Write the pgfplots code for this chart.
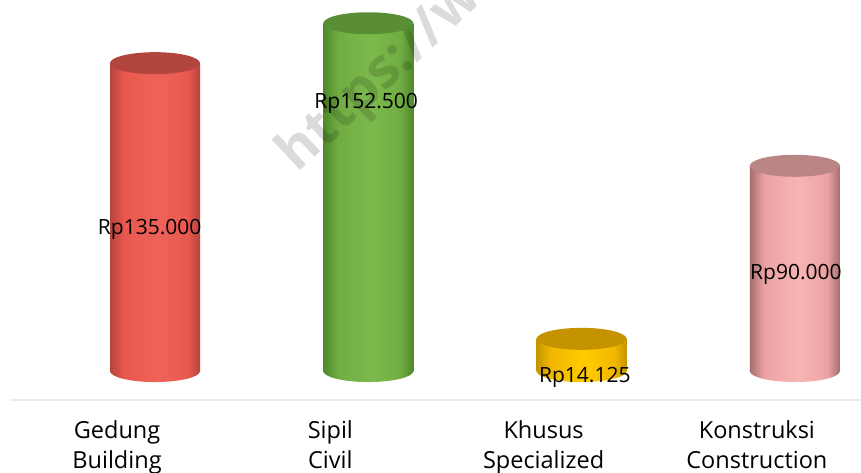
\documentclass[border=0pt]{standalone}
\usepackage{pgfplots}
\pgfplotsset{compat=1.18}
\usepackage{fontspec}
\setmainfont{Open Sans}
\definecolor{rD}{HTML}{B8433D}\definecolor{rM}{HTML}{E8584F}\definecolor{rL}{HTML}{F06259}\definecolor{rT}{HTML}{B3453F}
\definecolor{gD}{HTML}{4E882A}\definecolor{gM}{HTML}{70AC43}\definecolor{gL}{HTML}{7BBA4C}\definecolor{gT}{HTML}{598E37}
\definecolor{yD}{HTML}{C59500}\definecolor{yM}{HTML}{F2B700}\definecolor{yL}{HTML}{FFCC00}\definecolor{yT}{HTML}{C69300}
\definecolor{pD}{HTML}{A56E6E}\definecolor{pM}{HTML}{EDA2A2}\definecolor{pL}{HTML}{F7B4B4}\definecolor{pT}{HTML}{BA8585}
\pgfdeclarehorizontalshading{redbar}{100bp}{color(0bp)=(rD); color(25bp)=(rD); color(33bp)=(rM); color(52bp)=(rL); color(68bp)=(rM); color(75bp)=(rD); color(100bp)=(rD)}
\pgfdeclarehorizontalshading{greenbar}{100bp}{color(0bp)=(gD); color(25bp)=(gD); color(33bp)=(gM); color(52bp)=(gL); color(68bp)=(gM); color(75bp)=(gD); color(100bp)=(gD)}
\pgfdeclarehorizontalshading{yellowbar}{100bp}{color(0bp)=(yD); color(25bp)=(yD); color(33bp)=(yM); color(52bp)=(yL); color(68bp)=(yM); color(75bp)=(yD); color(100bp)=(yD)}
\pgfdeclarehorizontalshading{pinkbar}{100bp}{color(0bp)=(pD); color(25bp)=(pD); color(33bp)=(pM); color(52bp)=(pL); color(68bp)=(pM); color(75bp)=(pD); color(100bp)=(pD)}
\pgfdeclareplotmark{botR}{\pgfpathellipse{\pgfpointorigin}{\pgfqpoint{45pt}{0pt}}{\pgfqpoint{0pt}{11pt}}\pgfshadepath{redbar}{0}\pgfusepath{}}
\pgfdeclareplotmark{botG}{\pgfpathellipse{\pgfpointorigin}{\pgfqpoint{45pt}{0pt}}{\pgfqpoint{0pt}{11pt}}\pgfshadepath{greenbar}{0}\pgfusepath{}}
\pgfdeclareplotmark{botY}{\pgfpathellipse{\pgfpointorigin}{\pgfqpoint{45pt}{0pt}}{\pgfqpoint{0pt}{11pt}}\pgfshadepath{yellowbar}{0}\pgfusepath{}}
\pgfdeclareplotmark{botP}{\pgfpathellipse{\pgfpointorigin}{\pgfqpoint{45pt}{0pt}}{\pgfqpoint{0pt}{11pt}}\pgfshadepath{pinkbar}{0}\pgfusepath{}}
\pgfdeclareplotmark{cap}{\pgfpathellipse{\pgfpointorigin}{\pgfqpoint{45pt}{0pt}}{\pgfqpoint{0pt}{11pt}}\pgfusepathqfill}
\begin{document}
\begin{tikzpicture}
\path[use as bounding box] (-10pt,-72pt) rectangle (851pt,400pt);
\begin{axis}[
  at={(0,0)}, anchor=south west, scale only axis,
  width=851pt, height=400pt,
  xmin=-0.68, xmax=3.31, ymin=-12700, ymax=162700,
  axis x line*=bottom, axis y line=none,
  x axis line style={draw=black!8, line width=2.5pt},
  xtick={0,1,2,3},
  xticklabels={{Gedung\\Building},{Sipil\\Civil},{Khusus\\Specialized},{Konstruksi\\Construction}},
  xticklabel style={align=center, anchor=north, inner sep=0pt, yshift=-20pt, xshift=-38pt, font=\fontsize{23.5}{30}\selectfont},
  major tick length=0pt, ytick=\empty,
  clip=false,
]
% bottom rounded ends
\addplot[only marks, mark=botR] coordinates {(0,0)};
\addplot[only marks, mark=botG] coordinates {(1,0)};
\addplot[only marks, mark=botY] coordinates {(2,0)};
\addplot[only marks, mark=botP] coordinates {(3,0)};
% cylinder bodies
\addplot[ybar, bar width=90pt, bar shift=0pt, draw=none, shade, shading=redbar] coordinates {(0,135000)};
\addplot[ybar, bar width=90pt, bar shift=0pt, draw=none, shade, shading=greenbar] coordinates {(1,152500)};
\addplot[ybar, bar width=90pt, bar shift=0pt, draw=none, shade, shading=yellowbar] coordinates {(2,14125)};
\addplot[ybar, bar width=90pt, bar shift=0pt, draw=none, shade, shading=pinkbar] coordinates {(3,90000)};
% top caps
\addplot[only marks, mark=cap, mark options={fill=rT, draw=none}] coordinates {(0,135000)};
\addplot[only marks, mark=cap, mark options={fill=gT, draw=none}] coordinates {(1,152500)};
\addplot[only marks, mark=cap, mark options={fill=yT, draw=none}] coordinates {(2,14125)};
\addplot[only marks, mark=cap, mark options={fill=pT, draw=none}] coordinates {(3,90000)};
% data labels
\addplot[draw=none, mark=none, nodes near coords, point meta=explicit symbolic,
  nodes near coords style={anchor=center, inner sep=0pt, text=black, font=\fontsize{21}{24}\selectfont}]
  coordinates {(-0.025,62300) [Rp135.000] (0.99,117500) [Rp152.500] (2.015,-2600) [Rp14.125] (3.005,42500) [Rp90.000]};
\node[rotate=43, anchor=base west, inner sep=0pt, font=\bfseries\fontsize{55}{60}\selectfont, text=black, text opacity=0.14]
  at (rel axis cs:0.338,0.565) {https://www.};
\end{axis}
\end{tikzpicture}
\end{document}
